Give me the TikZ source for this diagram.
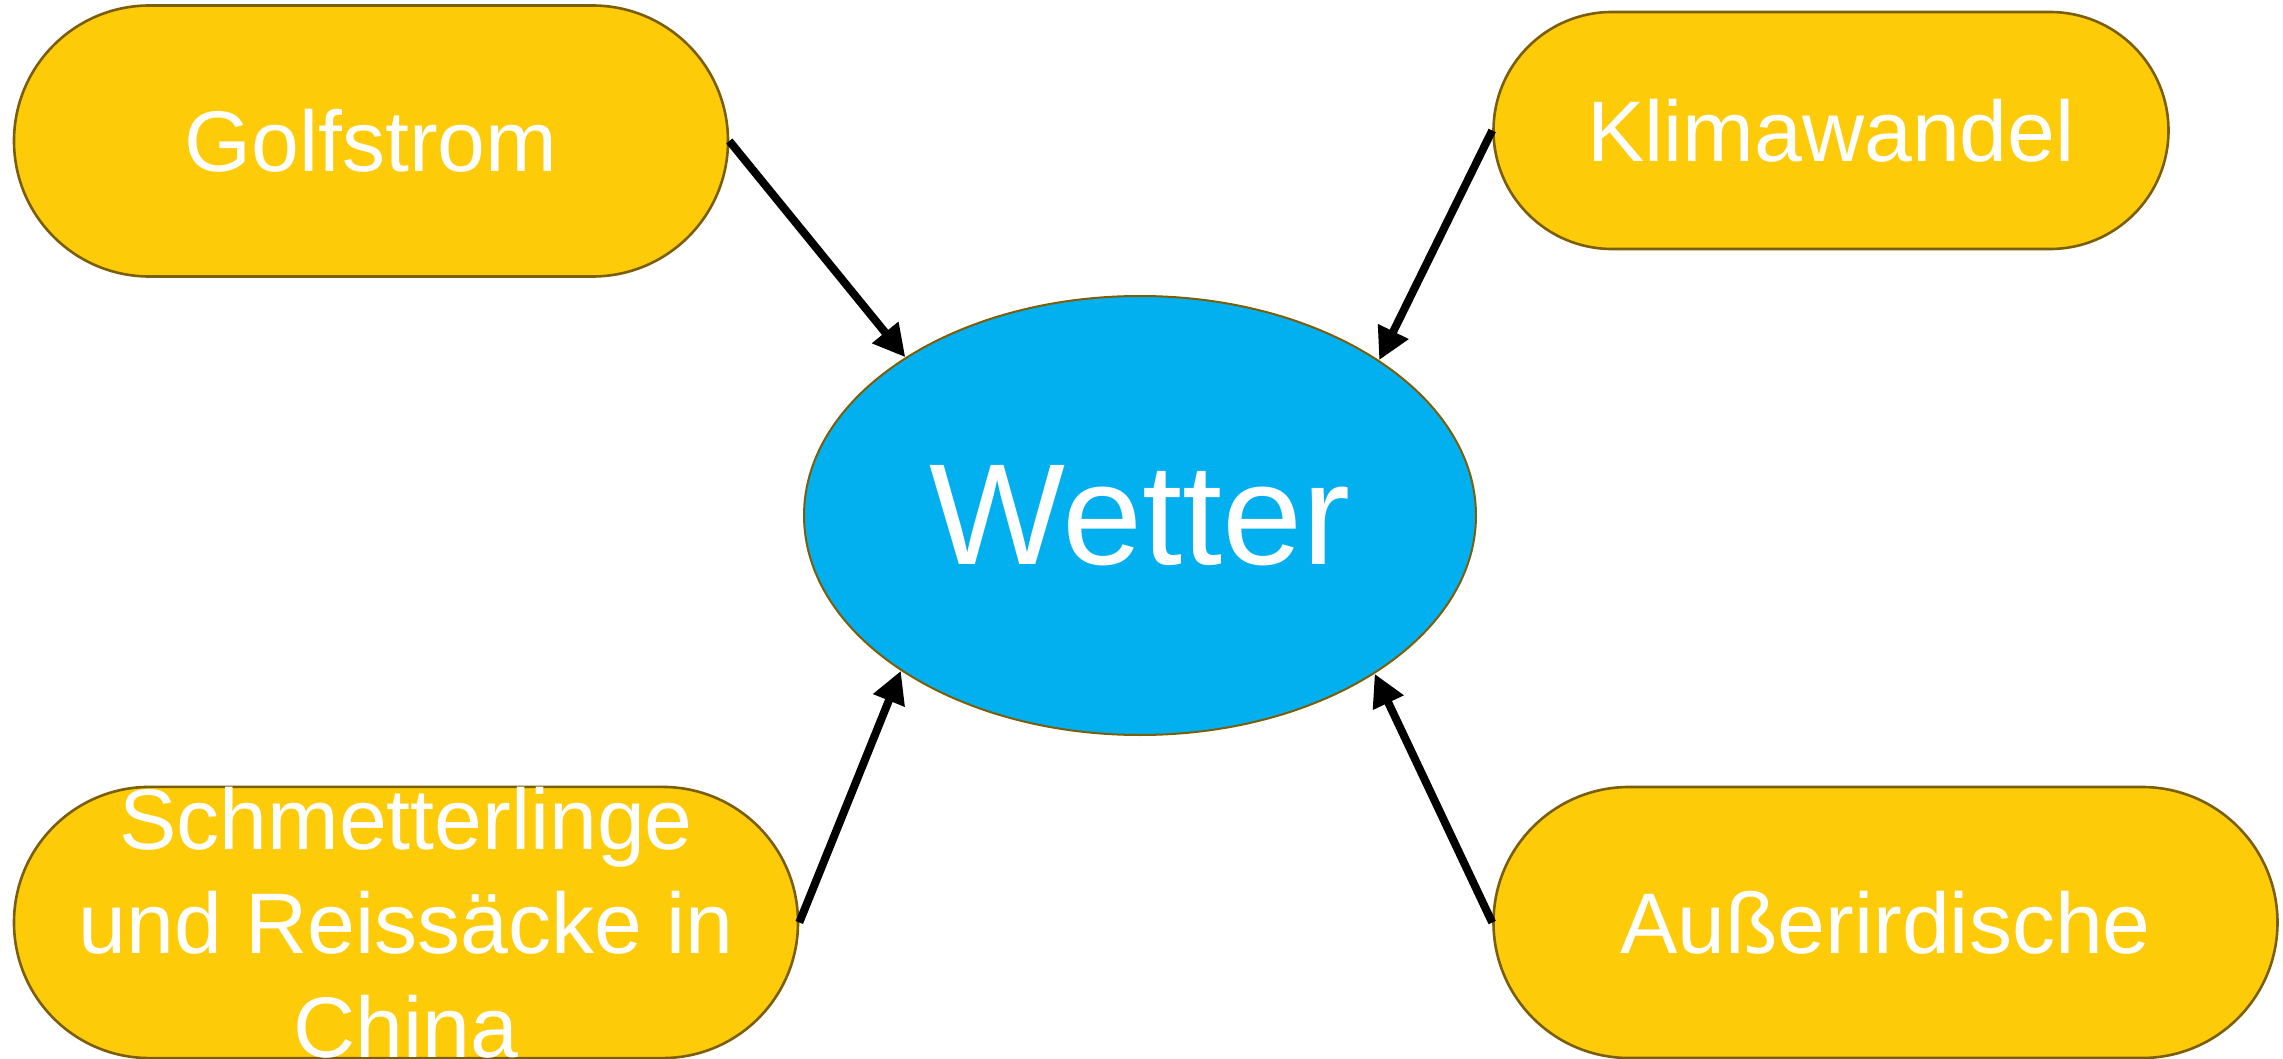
\documentclass[tikz,border=0pt]{standalone}
\usepackage{fontspec}
\setmainfont{Liberation Sans}
\usetikzlibrary{arrows.meta,shapes.geometric}
\definecolor{boxyellow}{RGB}{254,203,9}
\definecolor{boxedge}{RGB}{122,94,8}
\definecolor{wetterblue}{RGB}{2,176,240}
\tikzset{
  cause/.style={rectangle, draw=boxedge, line width=1.3pt, fill=boxyellow,
    text=white, inner sep=0pt, align=center,
    font=\fontsize{43}{52}\selectfont},
  effect/.style={ellipse, draw=boxedge, line width=1pt, fill=wetterblue,
    text=white, inner sep=0pt, font=\fontsize{72}{80}\selectfont},
  influence/.style={line width=4pt, -{Triangle[length=16pt,width=16pt]}}
}
\begin{document}
\begin{tikzpicture}[x=0.5pt,y=-0.5pt]
\useasboundingbox (0,0) rectangle (2283,1059);
\node[effect, minimum width=336pt, minimum height=219.5pt] (wetter) at (1140,515.5) {Wetter};
\node[cause, minimum width=357pt, minimum height=135.5pt, rounded corners=67.75pt] (golf) at (371,141) {Golfstrom};
\node[cause, minimum width=337.5pt, minimum height=118.5pt, rounded corners=59.25pt] (klima) at (1831,130.5) {Klimawandel};
\node[cause, minimum width=392pt, minimum height=135.5pt, rounded corners=67.75pt] (schm) at (406,922.5) {Schmetterlinge\\und Reissäcke in\\China};
\node[cause, minimum width=392pt, minimum height=135.5pt, rounded corners=67.75pt] (ausser) at (1885.5,922.5) {Außerirdische};
\draw[influence] (golf.east) -- (wetter.146.4);
\draw[influence] (klima.west) -- (wetter.33.6);
\draw[influence] (schm.east) -- (wetter.213.3);
\draw[influence] (ausser.west) -- (wetter.326.7);
\end{tikzpicture}
\end{document}
